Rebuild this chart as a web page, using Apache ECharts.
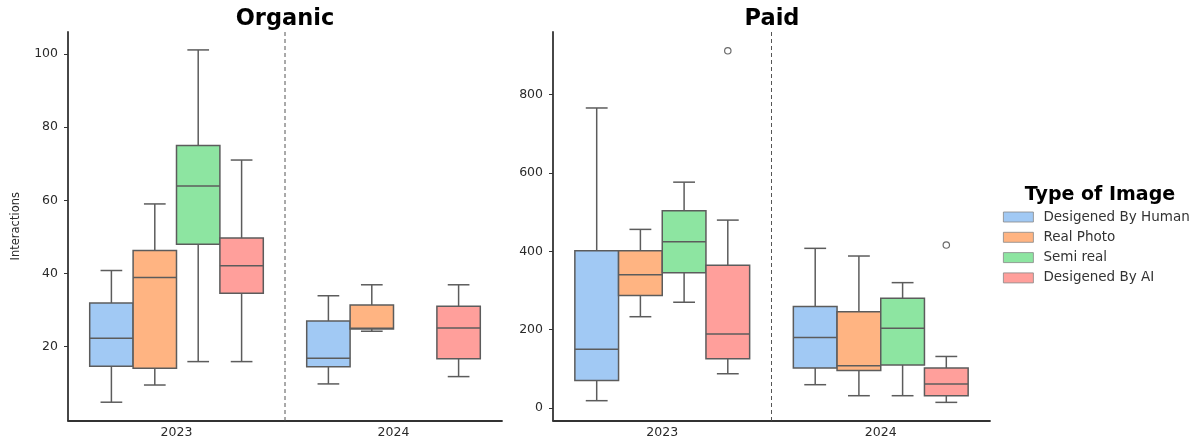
<!DOCTYPE html>
<html>
<head>
<meta charset="utf-8">
<script src="https://cdn.jsdelivr.net/npm/echarts@6/dist/echarts.min.js"></script>
<style>
  html, body { margin: 0; padding: 0; background: #ffffff; }
  #chart { width: 1203px; height: 443px; }
</style>
</head>
<body>
<div id="chart"></div>
<script>
// Categories
const years = ['2023', '2024'];
const imageTypes = ['Desigened By Human', 'Real Photo', 'Semi real', 'Desigened By AI'];
const typeColors = ['#a1c9f4', '#ffb482', '#8de5a1', '#ff9f9b'];

// Box statistics per year: [min, Q1, median, Q3, max]; null = no posts that year
const organicHuman = [[4.8, 14.6, 22.3, 31.9, 40.8], [9.8, 14.5, 16.8, 27.0, 33.9]];
const organicReal  = [[9.5, 14.1, 38.9, 46.3, 59.0], [24.2, 24.8, 25.0, 31.4, 36.9]];
const organicSemi  = [[15.9, 48.0, 63.9, 75.0, 101.1], null];
const organicAI    = [[15.9, 34.6, 42.1, 49.7, 71.0], [11.8, 16.7, 25.1, 31.0, 36.9]];

const paidHuman = [[18.6, 70.3, 150, 401.5, 766], [59.4, 102, 180, 259, 407.6]];
const paidReal  = [[233, 287, 340, 401.5, 456], [31.3, 95.8, 107.8, 246, 388]];
const paidSemi  = [[270, 345.5, 424.5, 503.5, 576.6], [31.3, 110, 203.8, 280.3, 320]];
const paidAI    = [[87.4, 125.6, 189, 364.3, 479.7], [14.3, 31.3, 61, 102, 131.5]];

// Outliers: [yearIndex, typeIndex, value]
const organicOutliers = [];
const paidOutliers = [[0, 3, 912], [1, 3, 416]];

// Tick labels
const organicTicks = [20, 40, 60, 80, 100];
const paidTicks = [0, 200, 400, 600, 800];

const FONT = 'DejaVu Sans';
const EDGE = '#5c5c5c';
const LW = 1.5;

function toRows(stats) {
  const rows = [];
  stats.forEach(function (s, yi) { if (s) rows.push([yi].concat(s)); });
  return rows;
}

function renderBox(hue) {
  return function (params, api) {
    const yi = api.value(0);
    const band = api.size([1, 0], [yi, 0])[0];
    const w = band * 0.2;
    const cx = api.coord([yi, 0])[0] + (hue - 1.5) * w;
    const py = function (d) { return api.coord([yi, api.value(d)])[1]; };
    const yMin = py(1), q1 = py(2), med = py(3), q3 = py(4), yMax = py(5);
    const ln = { stroke: EDGE, lineWidth: LW };
    return {
      type: 'group',
      children: [
        { type: 'line', shape: { x1: cx, y1: q3, x2: cx, y2: yMax }, style: ln },
        { type: 'line', shape: { x1: cx, y1: q1, x2: cx, y2: yMin }, style: ln },
        { type: 'line', shape: { x1: cx - w / 4, y1: yMax, x2: cx + w / 4, y2: yMax }, style: ln },
        { type: 'line', shape: { x1: cx - w / 4, y1: yMin, x2: cx + w / 4, y2: yMin }, style: ln },
        { type: 'rect', shape: { x: cx - w / 2, y: q3, width: w, height: q1 - q3 },
          style: { fill: api.visual('color'), stroke: EDGE, lineWidth: LW } },
        { type: 'line', shape: { x1: cx - w / 2, y1: med, x2: cx + w / 2, y2: med }, style: ln }
      ]
    };
  };
}

function renderOutlier(params, api) {
  const yi = api.value(0);
  const hue = api.value(1);
  const band = api.size([1, 0], [yi, 0])[0];
  const w = band * 0.2;
  const p = api.coord([yi, api.value(2)]);
  return {
    type: 'circle',
    shape: { cx: p[0] + (hue - 1.5) * w, cy: p[1], r: 3.2 },
    style: { fill: 'none', stroke: '#6a6a6a', lineWidth: 1.2 }
  };
}

function renderDivider(params, api) {
  const band = api.size([1, 0], [0, 0])[0];
  const x = api.coord([0, 0])[0] + band / 2;
  const cs = params.coordSys;
  return {
    type: 'line',
    shape: { x1: x, y1: cs.y, x2: x, y2: cs.y + cs.height },
    style: { stroke: '#555', lineWidth: 1, lineDash: [4, 3] }
  };
}

function panelSeries(idx, groups, outliers) {
  const list = [];
  list.push({
    type: 'custom', name: 'divider', xAxisIndex: idx, yAxisIndex: idx,
    renderItem: renderDivider, data: [[0, 0]], silent: true, z: 1
  });
  groups.forEach(function (stats, hue) {
    list.push({
      type: 'custom', name: imageTypes[hue], xAxisIndex: idx, yAxisIndex: idx,
      itemStyle: { color: typeColors[hue] },
      renderItem: renderBox(hue),
      dimensions: ['year', 'min', 'q1', 'median', 'q3', 'max'],
      encode: { x: 0, y: [1, 2, 3, 4, 5] },
      data: toRows(stats), z: 2
    });
  });
  if (outliers.length) {
    list.push({
      type: 'custom', name: 'outliers', xAxisIndex: idx, yAxisIndex: idx,
      renderItem: renderOutlier,
      encode: { x: 0, y: 2 },
      data: outliers, z: 3
    });
  }
  return list;
}

const axisLineStyle = { color: '#333', width: 1.8 };
const tickLabel = { color: '#2a2a2a', fontSize: 12.5, fontFamily: FONT };

function xAxisFor(idx) {
  return {
    type: 'category', gridIndex: idx, data: years,
    axisLine: { onZero: false, lineStyle: axisLineStyle },
    axisTick: { alignWithLabel: true, length: 3, lineStyle: { color: '#333' } },
    axisLabel: Object.assign({ margin: 6 }, tickLabel),
    splitLine: { show: false }
  };
}

function yAxisFor(idx, min, max, ticks) {
  return {
    type: 'value', gridIndex: idx, min: min, max: max,
    axisLine: { show: true, onZero: false, lineStyle: axisLineStyle },
    axisTick: { show: true, length: 4, customValues: ticks, lineStyle: { color: '#333' } },
    axisLabel: Object.assign({ customValues: ticks, margin: 10 }, tickLabel),
    splitLine: { show: false }
  };
}

const yLeft = yAxisFor(0, -0.2, 106, organicTicks);
yLeft.name = 'Interactions';
yLeft.nameLocation = 'middle';
yLeft.nameGap = 46;
yLeft.nameTextStyle = { color: '#2a2a2a', fontSize: 11.5, fontFamily: FONT };

const option = {
  backgroundColor: '#ffffff',
  animation: false,
  grid: [
    { left: 68, right: 701, top: 32, bottom: 22.5 },
    { left: 553, right: 213, top: 32, bottom: 22.5 }
  ],
  xAxis: [xAxisFor(0), xAxisFor(1)],
  yAxis: [yLeft, yAxisFor(1, -32, 960, paidTicks)],
  legend: {
    orient: 'vertical', left: 1003, top: 210, padding: 0,
    icon: 'rect', itemWidth: 30, itemHeight: 10, itemGap: 6.3,
    selectedMode: false,
    textStyle: { color: '#333', fontSize: 13.5, lineHeight: 14, fontFamily: FONT, padding: [0, 0, 0, 5] },
    data: imageTypes.map(function (n, i) {
      return { name: n, itemStyle: { color: typeColors[i], borderColor: '#888', borderWidth: 0.8 } };
    })
  },
  graphic: [
    { type: 'text', x: 285, y: 19.5, style: { text: 'Organic', fill: '#000', font: 'bold 22.5px "DejaVu Sans"', textAlign: 'center', textVerticalAlign: 'middle' } },
    { type: 'text', x: 772, y: 19.5, style: { text: 'Paid', fill: '#000', font: 'bold 22.5px "DejaVu Sans"', textAlign: 'center', textVerticalAlign: 'middle' } },
    { type: 'text', x: 1100, y: 195, style: { text: 'Type of Image', fill: '#000', font: 'bold 19px "DejaVu Sans"', textAlign: 'center', textVerticalAlign: 'middle' } }
  ],
  series: [].concat(
    panelSeries(0, [organicHuman, organicReal, organicSemi, organicAI], organicOutliers),
    panelSeries(1, [paidHuman, paidReal, paidSemi, paidAI], paidOutliers)
  )
};

const chart = echarts.init(document.getElementById('chart'), null, { renderer: 'canvas' });
chart.setOption(option);
</script>
</body>
</html>
